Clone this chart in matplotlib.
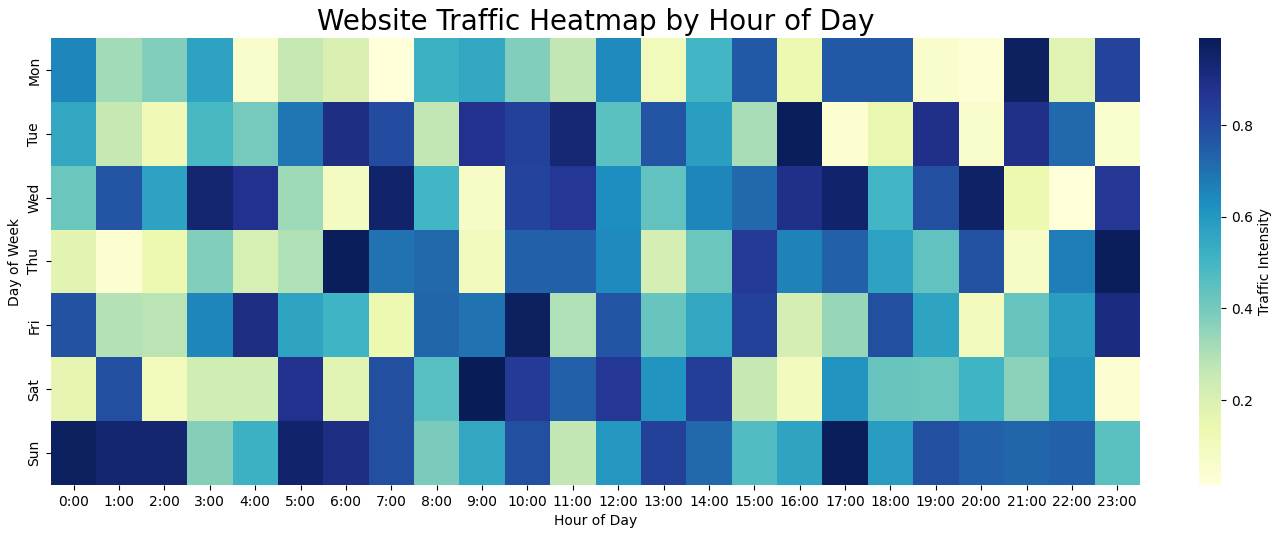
import matplotlib
matplotlib.use("Agg")
import matplotlib.pyplot as plt
import seaborn as sns
import numpy as np

days = ["Mon", "Tue", "Wed", "Thu", "Fri", "Sat", "Sun"]
hours = [f"{h}:00" for h in range(24)]

mon = [0.65, 0.32, 0.38, 0.57, 0.06, 0.26, 0.20, 0.015, 0.52, 0.55, 0.38, 0.27,
       0.64, 0.11, 0.50, 0.76, 0.14, 0.76, 0.76, 0.06, 0.03, 0.97, 0.18, 0.82]
tue = [0.55, 0.26, 0.12, 0.49, 0.40, 0.69, 0.90, 0.80, 0.27, 0.88, 0.83, 0.93,
       0.45, 0.77, 0.58, 0.31, 0.985, 0.04, 0.15, 0.89, 0.06, 0.89, 0.72, 0.05]
wed = [0.42, 0.77, 0.57, 0.94, 0.88, 0.33, 0.09, 0.95, 0.50, 0.07, 0.82, 0.86,
       0.63, 0.44, 0.65, 0.72, 0.89, 0.95, 0.50, 0.79, 0.96, 0.14, 0.02, 0.86]
thu = [0.17, 0.04, 0.14, 0.38, 0.21, 0.30, 0.98, 0.70, 0.72, 0.10, 0.74, 0.74,
       0.64, 0.22, 0.42, 0.85, 0.66, 0.74, 0.57, 0.44, 0.78, 0.07, 0.67, 0.985]
fri = [0.78, 0.29, 0.28, 0.65, 0.90, 0.56, 0.51, 0.14, 0.73, 0.70, 0.97, 0.30,
       0.77, 0.43, 0.55, 0.83, 0.22, 0.34, 0.79, 0.56, 0.10, 0.43, 0.58, 0.91]
sat = [0.16, 0.79, 0.11, 0.23, 0.23, 0.88, 0.18, 0.79, 0.46, 0.99, 0.85, 0.74,
       0.86, 0.61, 0.84, 0.26, 0.10, 0.61, 0.43, 0.42, 0.51, 0.36, 0.61, 0.04]
sun = [0.97, 0.94, 0.94, 0.37, 0.52, 0.95, 0.90, 0.79, 0.39, 0.55, 0.79, 0.27,
       0.60, 0.83, 0.72, 0.47, 0.56, 0.985, 0.59, 0.79, 0.74, 0.73, 0.74, 0.45]

data = np.array([mon, tue, wed, thu, fri, sat, sun])

fig = plt.figure(figsize=(12.8, 5.36), dpi=100)
ax = fig.add_axes([51 / 1280, 51 / 536, 1089 / 1280, 447 / 536])
cax = fig.add_axes([1199 / 1280, 51 / 536, 22 / 1280, 447 / 536])

sns.heatmap(data, cmap="YlGnBu", ax=ax, cbar_ax=cax,
            xticklabels=hours, yticklabels=days,
            cbar_kws={"label": "Traffic Intensity"})

ax.set_title("Website Traffic Heatmap by Hour of Day", fontsize=20)
ax.set_xlabel("Hour of Day")
ax.set_ylabel("Day of Week")
plt.setp(ax.get_xticklabels(), rotation=0)
plt.setp(ax.get_yticklabels(), rotation=90, va="center")

fig.savefig("out.png", dpi=100)
